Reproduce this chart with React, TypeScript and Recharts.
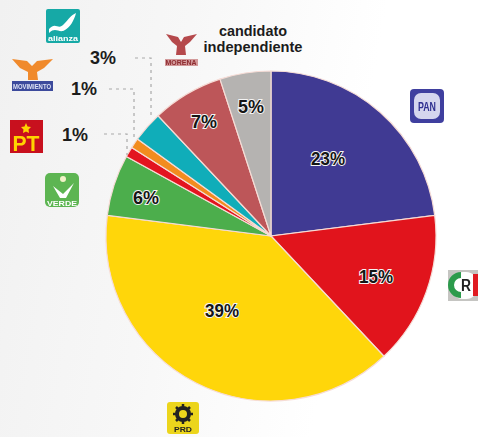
import React from "react";
import { PieChart, Pie, Cell } from "recharts";

const parties = ["PAN", "PRI", "PRD", "VERDE", "PT", "MC", "NA", "MORENA", "IND"];
const shares = [23, 15, 39, 6, 1, 1, 3, 7, 5];
const colors = ["#403a93", "#e1141c", "#ffd60a", "#4cae4c", "#e3141f", "#f28c1e", "#10adb9", "#bd5659", "#b5b3b1"];
const table = parties.map((party, i) => ({ party, share: shares[i] }));

const font = "'Liberation Sans',Arial,sans-serif";
const labelSpots: Record<string, [number, number]> = {
  PAN: [328, 159], PRI: [376, 277], PRD: [222, 311], VERDE: [146, 198], MORENA: [204, 122], IND: [251, 107],
};

const renderLabel = (p: any) => {
  const spot = labelSpots[p.payload?.party ?? p.party];
  if (!spot) return null;
  const v = p.payload?.share ?? p.share;
  return (
    <text x={spot[0]} y={spot[1]} textAnchor="middle" dominantBaseline="central" fontFamily={font}
      fontWeight={700} fontSize={18} fill="#151515" stroke="#f4f4f4" strokeWidth={2} paintOrder="stroke"
      textLength={v >= 10 ? 34 : 26} lengthAdjust="spacingAndGlyphs">
      {v}%
    </text>
  );
};

const T = (props: any) => <text fontFamily={font} fontWeight={700} textAnchor="middle" lengthAdjust="spacingAndGlyphs" {...props} />;

const Overlay = () => (
  <svg width={478} height={437} style={{ position: "absolute", left: 0, top: 0, pointerEvents: "none" }}>
    <g fill="none" stroke="#a9a9a9" strokeWidth={1.2} strokeDasharray="3 4">
      <path d="M135 58H151V119" />
      <path d="M109 89H134V139" />
      <path d="M104 134H127V155" />
    </g>
    <T x={103} y={64} fontSize={18} fill="#1c1c1c" textLength={26}>3%</T>
    <T x={84} y={95} fontSize={18} fill="#1c1c1c" textLength={26}>1%</T>
    <T x={75} y={141} fontSize={18} fill="#1c1c1c" textLength={26}>1%</T>
    <T x={253} y={36} fontSize={15} fill="#1c1c1c" textLength={68}>candidato</T>
    <T x={253} y={52} fontSize={15} fill="#1c1c1c" textLength={99}>independiente</T>

    <g style={{ filter: "blur(0.6px)" }}>
      <rect x={46} y={9} width={34} height={34} rx={2} fill="#16a9a6" />
      <path d="M49 29C56 21 58 31 64 24C68 20 71 15 76 13C74 21 70 27 65 30C59 34 56 26 49 33Z" fill="#fff" />
      <T x={63} y={41} fontSize={8} fill="#fff" textLength={30}>alianza</T>

      <path d="M12 59L27 61L32 66L37 61L53 59L44 68L37 72L38 80H28L28 72L20 68Z" fill="#f08a2c" />
      <rect x={12} y={81} width={41} height={10} fill="#3c4a9c" />
      <T x={32} y={89} fontSize={7} fill="#dfe3f5" textLength={38}>MOVIMIENTO</T>

      <rect x={10} y={120} width={33} height={33} fill="#c8101e" />
      <polygon points="26,123 27.5,126.5 31,127 28.5,129.5 29,133 26,131.5 23,133 23.5,129.5 21,127 24.5,126.5" fill="#ffd400" />
      <T x={26} y={151} fontSize={22} fill="#ffd400" textLength={27}>PT</T>

      <rect x={45} y={173} width={34} height={34} rx={5} fill="#5db552" />
      <path d="M53 186L63 194L74 183L66 198L60 198Z" fill="#fff" />
      <circle cx={63} cy={179} r={3} fill="#f2f2c8" />
      <T x={62} y={206} fontSize={8} fill="#fff" textLength={30}>VERDE</T>

      <path d="M166 34L178 37L181 42L184 37L197 34L190 42L185 46L186 55H176L177 46L172 42Z" fill="#b5494c" />
      <rect x={165} y={59} width={33} height={7} fill="#d39a9b" />
      <T x={181} y={65} fontSize={6.5} fill="#8d2b2f" textLength={31}>MORENA</T>

      <rect x={410} y={89} width={34} height={34} rx={4} fill="#3f3f9f" />
      <rect x={414} y={93} width={26} height={26} rx={7} fill="#d5d6ee" />
      <T x={427} y={111} fontSize={13} fill="#2f2f90" textLength={18}>PAN</T>

      <rect x={448} y={270} width={30} height={31} fill="#c5c5c2" />
      <rect x={451} y={272} width={27} height={27} rx={12} fill="#fff" />
      <path d="M461 272A13 13 0 0 0 461 298L461 292A7 7 0 0 1 461 278Z" fill="#2c9b4c" />
      <rect x={473} y={274} width={5} height={22} fill="#e01b22" />
      <T x={466} y={291} fontSize={16} fill="#222" textLength={10}>R</T>

      <rect x={167} y={402} width={32} height={32} rx={3} fill="#ecd51c" />
      <circle cx={183} cy={414} r={6} fill="none" stroke="#222" strokeWidth={4} />
      <path d="M183 404V408M183 420V424M173 414H177M189 414H193M176 407L179 410M187 418L190 421M190 407L187 410M179 418L176 421"
        stroke="#222" strokeWidth={2.5} />
      <T x={183} y={432} fontSize={8} fill="#222" textLength={18}>PRD</T>
    </g>
  </svg>
);

export default function App() {
  return (
    <div style={{ position: "absolute", left: 0, top: 0, width: 478, height: 437, overflow: "hidden",
      background: "linear-gradient(100deg,#f1f1f1 0%,#f7f7f7 35%,#ffffff 70%)" }}>
      <PieChart width={478} height={437} margin={{ top: 0, right: 0, bottom: 0, left: 0 }}>
        <Pie data={table} dataKey="share" nameKey="party" cx={271} cy={236} outerRadius={165} innerRadius={0}
          startAngle={90} endAngle={-270} stroke="#f6dcd6" strokeWidth={1.2} labelLine={false}
          label={renderLabel} isAnimationActive={false}>
          {table.map((d, i) => <Cell key={d.party} fill={colors[i]} />)}
        </Pie>
      </PieChart>
      <Overlay />
    </div>
  );
}
